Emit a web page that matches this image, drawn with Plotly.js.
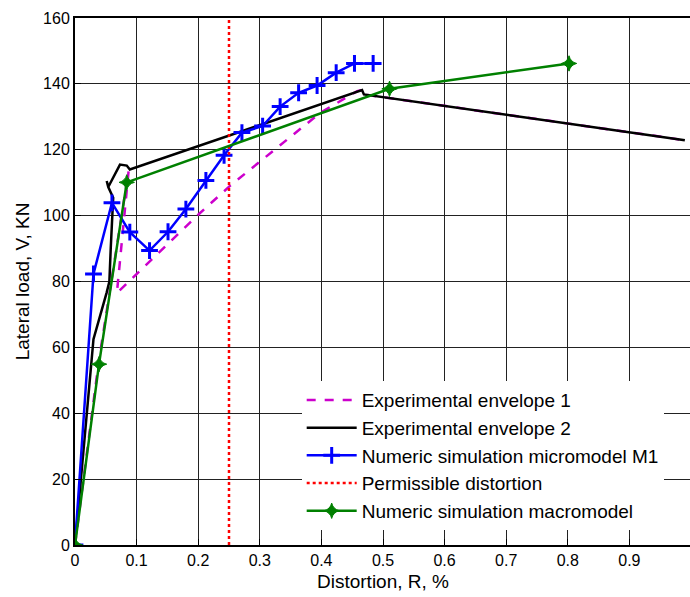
<!DOCTYPE html>
<html>
<head>
<meta charset="utf-8">
<script src="https://cdn.plot.ly/plotly-3.0.1.min.js"></script>
<style>html,body{margin:0;padding:0;overflow:hidden;background:#fff;}</style>
</head>
<body>
<div id="chart" style="width:700px;height:597px;"></div>
<script>
// Experimental envelope 1 (magenta dashed)
const env1X = [0, 0.038, 0.087, 0.068, 0.203, 0.252, 0.398, 0.458, 0.466, 0.469, 0.99];
const env1Y = [0, 55, 113.5, 76.5, 100.8, 109.1, 131.2, 137.8, 138.1, 136.8, 122.9];
// Experimental envelope 2 (black)
const env2X = [0, 0.030, 0.0515, 0.0558, 0.058, 0.062, 0.054, 0.0515, 0.054, 0.073, 0.084, 0.089, 0.466, 0.469, 0.99];
const env2Y = [0, 62.5, 76.7, 80, 90, 105.4, 108.7, 110.5, 108.7, 115.5, 115.2, 114, 138.1, 136.8, 122.9];
// Numeric simulation micromodel M1 (blue)
const microX = [0, 0.030, 0.060, 0.089, 0.121, 0.151, 0.180, 0.2125, 0.242, 0.271, 0.3046, 0.333, 0.363, 0.393, 0.424, 0.4537, 0.484];
const microY = [0, 82.3, 103.9, 95, 89.4, 95.1, 102, 110.7, 118.3, 125.2, 127.2, 133.1, 137.3, 139.5, 143.4, 146.2, 146.2];
// Permissible distortion (red dotted)
const permX = [0.25, 0.25];
const permY = [0, 160];
// Numeric simulation macromodel (green)
const macroX = [0, 0.039, 0.084, 0.5106, 0.802];
const macroY = [0, 54.9, 110.1, 138.5, 146.2];

const xTicks = [0, 0.1, 0.2, 0.3, 0.4, 0.5, 0.6, 0.7, 0.8, 0.9];
const yTicks = [0, 20, 40, 60, 80, 100, 120, 140, 160];

const traces = [
  {x: env1X, y: env1Y, mode: 'lines', name: 'Experimental envelope 1',
   line: {color: '#cc00cc', width: 2.5, dash: 'dash'}},
  {x: env2X, y: env2Y, mode: 'lines', name: 'Experimental envelope 2',
   line: {color: '#000000', width: 2.5}},
  {x: microX, y: microY, mode: 'lines+markers', name: 'Numeric simulation micromodel M1',
   line: {color: '#0000ff', width: 2.5},
   marker: {symbol: 'cross-thin-open', size: 12, color: '#0000ff', line: {color: '#0000ff', width: 3}}},
  {x: permX, y: permY, mode: 'lines', name: 'Permissible distortion',
   line: {color: '#ff0000', width: 2.5, dash: 'dot'}},
  {x: macroX, y: macroY, mode: 'lines+markers', name: 'Numeric simulation macromodel',
   line: {color: '#008000', width: 2.5},
   marker: {symbol: 'star-diamond', size: 11, color: '#008000', line: {color: '#008000', width: 1}}}
];

const layout = {
  width: 700, height: 597,
  margin: {l: 75, r: 9, t: 18, b: 52},
  paper_bgcolor: '#fff', plot_bgcolor: '#fff',
  font: {family: 'Arial, "Liberation Sans", sans-serif', size: 16, color: '#000'},
  showlegend: true,
  legend: {x: 0.368, y: 0.311, xanchor: 'left', yanchor: 'top', bgcolor: '#fff',
           borderwidth: 0, font: {size: 19}, tracegroupgap: 0, itemwidth: 50},
  xaxis: {range: [0, 1], tickvals: xTicks, ticktext: xTicks.map(String),
          showgrid: true, gridcolor: '#222', gridwidth: 1, zeroline: false,
          showline: true, linecolor: '#000', linewidth: 2, mirror: true,
          ticks: 'inside', ticklen: 6, tickcolor: '#000',
          title: {text: 'Distortion, R, %', font: {size: 19}, standoff: 6},
          tickfont: {size: 16}},
  yaxis: {range: [0, 160], tickvals: yTicks,
          showgrid: true, gridcolor: '#222', gridwidth: 1, zeroline: false,
          showline: true, linecolor: '#000', linewidth: 2, mirror: true,
          ticks: 'inside', ticklen: 6, tickcolor: '#000',
          title: {text: 'Lateral load, V, KN', font: {size: 19}, standoff: 8},
          tickfont: {size: 16}}
};

Plotly.newPlot('chart', traces, layout, {displayModeBar: false, staticPlot: true});
</script>
</body>
</html>
